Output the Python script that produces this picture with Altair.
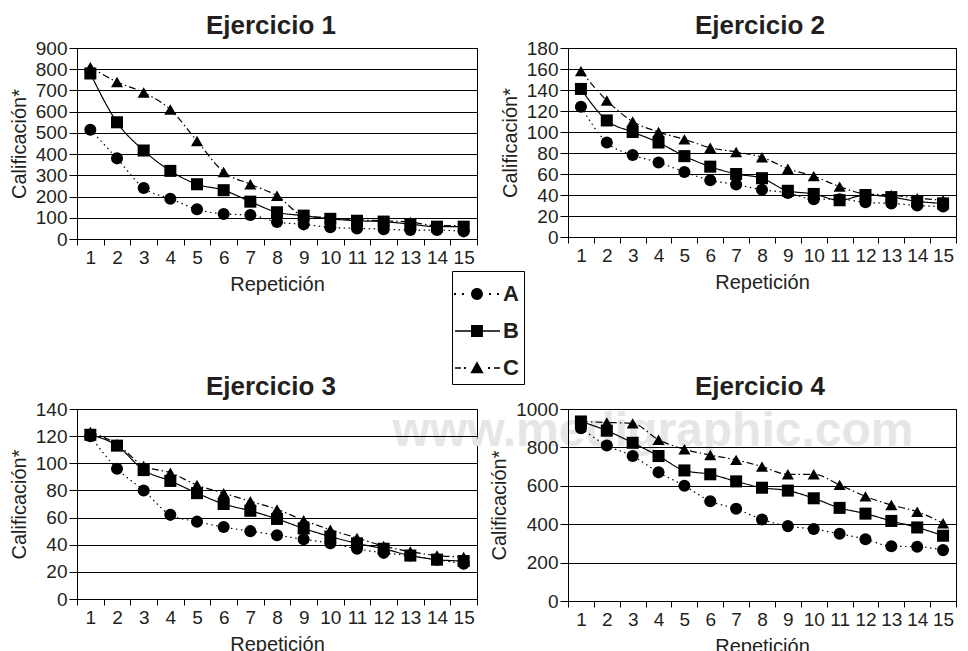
import altair as alt
import pandas as pd

# ---------------- data ----------------
reps = list(range(1, 16))
series = ["A", "B", "C"]

e1_a = [515, 380, 240, 190, 140, 118, 113, 80, 69, 55, 50, 46, 42, 42, 36]
e1_b = [780, 550, 417, 321, 258, 230, 176, 126, 110, 95, 86, 82, 70, 58, 58]
e1_c = [810, 740, 690, 610, 462, 316, 258, 204, 110, 100, 90, 86, 80, 63, 63]

e2_a = [124, 90, 78, 71, 62, 54, 50, 45, 42, 36, 36, 33, 32, 30, 29]
e2_b = [141, 111, 100, 90, 77, 67, 60, 56, 44, 41, 35, 40, 38, 34, 32]
e2_c = [158, 130, 110, 100, 93, 85, 81, 76, 65, 58, 48, 41, 40, 37, 35]

e3_a = [120, 96, 80, 62, 57, 53, 50, 47, 44, 41, 37, 34, 32, 29, 26]
e3_b = [121, 113, 95, 87, 78, 70, 65, 59, 52, 46, 41, 37, 32, 29, 28]
e3_c = [123, 114, 98, 93, 84, 78, 72, 66, 58, 51, 45, 39, 35, 32, 31]

e4_a = [900, 810, 755, 670, 600, 520, 480, 425, 390, 375, 350, 322, 285, 283, 265]
e4_b = [935, 887, 824, 755, 680, 660, 623, 590, 575, 535, 485, 455, 417, 383, 340]
e4_c = [935, 930, 925, 840, 790, 760, 735, 700, 660, 660, 605, 545, 500, 465, 405]

ticks1 = [0, 100, 200, 300, 400, 500, 600, 700, 800, 900]
ticks2 = [0, 20, 40, 60, 80, 100, 120, 140, 160, 180]
ticks3 = [0, 20, 40, 60, 80, 100, 120, 140]
ticks4 = [0, 200, 400, 600, 800, 1000]

titles = ["Ejercicio 1", "Ejercicio 2", "Ejercicio 3", "Ejercicio 4"]
watermark_text = ["www.medigraphic.com"]

TEXT = "#231f20"
FONT = "Liberation Sans"

# legend glyphs (line style + marker) as custom symbol paths
leg_a = ("M0.44,0A0.33,0.33,0,1,1,-0.22,0A0.33,0.33,0,1,1,0.44,0Z"
         "M-1.165,-0.055h0.11v0.11h-0.11Z M-0.725,-0.055h0.11v0.11h-0.11Z"
         "M0.775,-0.055h0.11v0.11h-0.11Z M1.225,-0.055h0.11v0.11h-0.11Z")
leg_b = "M-1.11,-0.04H1.39V0.04H-1.11Z M-0.22,-0.33H0.44V0.33H-0.22Z"
leg_c = ("M-1.11,-0.04H-0.78V0.04H-1.11Z M-0.615,-0.055h0.11v0.11h-0.11Z"
         "M0.725,-0.055h0.11v0.11h-0.11Z M1.06,-0.04H1.39V0.04H1.06Z"
         "M0.11,-0.38L0.48,0.29H-0.26Z")


def long_df(a, b, c):
    rows = []
    for s, vals in zip(series, (a, b, c)):
        for r, v in zip(reps, vals):
            rows.append({"rep": r, "serie": s, "val": v})
    return pd.DataFrame(rows)


def panel(title, df, ymax, yvals, w, h, dx, legend=False, watermark=False):
    xenc = alt.X("rep:O", title="Repetición",
                 scale=alt.Scale(type="band", paddingInner=0, paddingOuter=0),
                 axis=alt.Axis(labelAngle=0, tickBand="extent"))
    yenc = alt.Y("val:Q", title="Calificación*",
                 scale=alt.Scale(domain=[0, ymax], nice=False, zero=True),
                 axis=alt.Axis(values=yvals, format="d", zindex=1))
    base = alt.Chart(df).encode(x=xenc, y=yenc)
    lines = base.mark_line(interpolate="monotone", color="black", strokeWidth=1.2).encode(
        strokeDash=alt.StrokeDash("serie:N",
                                  scale=alt.Scale(domain=series,
                                                  range=[[1.5, 3.5], [1, 0], [7, 3, 1.5, 3]]),
                                  legend=None))
    points = base.mark_point(filled=True, color="black", size=145, opacity=1).encode(
        shape=alt.Shape("serie:N",
                        scale=alt.Scale(domain=series, range=["circle", "square", "triangle-up"]),
                        legend=None))
    layers = []
    if watermark:
        wm = alt.Chart(pd.DataFrame({"t": watermark_text})).mark_text(
            font=FONT, fontSize=48, fontWeight="bold", color="#e6e6e6",
            align="center", baseline="alphabetic").encode(
            text="t:N", x=alt.value(576), y=alt.value(37))
        layers.append(wm)
    layers += [lines, points]
    if legend:
        leg = base.transform_filter("false").mark_point(
            filled=True, color="black", size=1296, opacity=1).encode(
            shape=alt.Shape("serie:N",
                            scale=alt.Scale(domain=series, range=[leg_a, leg_b, leg_c]),
                            legend=alt.Legend(title=None, orient="none",
                                              legendX=375, legendY=223,
                                              labelFont=FONT, labelFontSize=22,
                                              labelFontWeight="bold", labelColor=TEXT,
                                              labelOffset=10, rowPadding=8,
                                              symbolSize=1296,
                                              padding=5, strokeColor="black",
                                              fillColor="white",
                                              symbolFillColor="black",
                                              symbolStrokeColor="black",
                                              symbolStrokeWidth=0)))
        layers.append(leg)
    ch = alt.layer(*layers).properties(
        width=w, height=h,
        title=alt.Title(title, dx=dx, dy=4, frame="group"))
    if legend:
        ch = ch.resolve_scale(shape="independent")
    return ch


p1 = panel(titles[0], long_df(e1_a, e1_b, e1_c), 900, ticks1, 400, 191, -6, legend=True)
p2 = panel(titles[1], long_df(e2_a, e2_b, e2_c), 180, ticks2, 388, 189, -2)
p3 = panel(titles[2], long_df(e3_a, e3_b, e3_c), 140, ticks3, 400, 190, -6, watermark=True)
p4 = panel(titles[3], long_df(e4_a, e4_b, e4_c), 1000, ticks4, 388, 192, -2)

chart = alt.concat(
    p1, p2, p3, p4, columns=2,
    spacing={"row": 170, "column": 91}, bounds="flush"
).resolve_scale(
    shape="independent", strokeDash="independent", x="independent", y="independent"
).properties(
    padding={"left": 0, "top": 4, "right": 0, "bottom": 0}
).configure_view(
    stroke="black", strokeWidth=1
).configure_axis(
    labelFont=FONT, labelFontSize=19, labelColor=TEXT,
    titleFont=FONT, titleFontSize=20, titleFontWeight="normal", titleColor=TEXT,
    domainColor="black", tickColor="black", gridColor="black", gridOpacity=1,
    domainWidth=1, tickWidth=1, gridWidth=1
).configure_axisX(
    tickSize=6, labelPadding=3, titlePadding=7, grid=False
).configure_axisY(
    tickSize=8, labelPadding=2, titlePadding=6, grid=True
).configure_legend(
    strokeColor="black", strokeWidth=1, fillColor="white"
).configure_title(
    font=FONT, fontSize=26, fontWeight="bold", color=TEXT,
    baseline="alphabetic", offset=0, anchor="middle"
)

chart.save("out.html", embed_options={"renderer": "svg", "actions": False})
